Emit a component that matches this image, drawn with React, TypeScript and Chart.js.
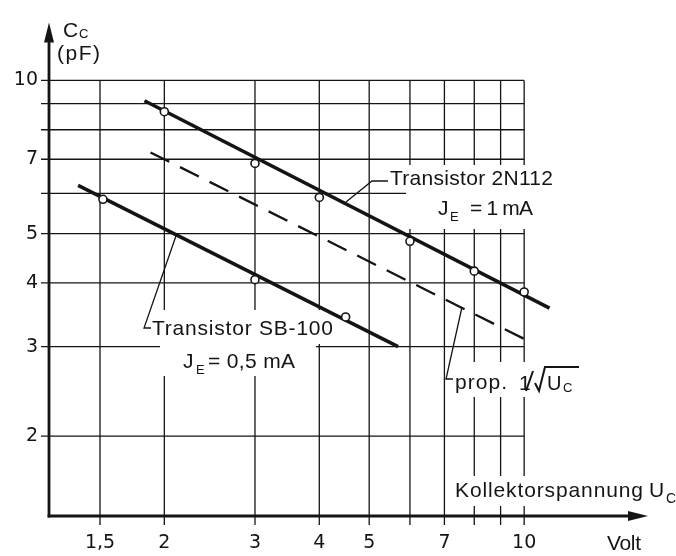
import React, { useEffect, useRef } from "react";
import { Chart, registerables } from "chart.js";

Chart.register(...registerables);

// ---- axis / grid values ----
const xTickValues = [1.5, 2, 3, 4, 5, 7, 10];
const yTickValues = [2, 3, 4, 5, 7, 10];
const xGridValues = [1.5, 2, 3, 4, 5, 6, 7, 8, 9, 10];
const yGridValues = [2, 3, 4, 5, 6, 7, 8, 9, 10];

// ---- Transistor 2N112, J_E = 1 mA ----
const n112Volt = [2, 3, 4, 6, 8, 10];
const n112Cap = [8.68, 6.87, 5.89, 4.83, 4.22, 3.84];
const n112LineVolt = [1.83, 11.2];
const n112LineCap = [9.12, 3.57];

// ---- Transistor SB-100, J_E = 0,5 mA ----
const sb100Volt = [1.52, 3, 4.5];
const sb100Cap = [5.84, 4.06, 3.43];
const sb100LineVolt = [1.36, 5.69];
const sb100LineCap = [6.22, 3.0];

// ---- prop. 1/sqrt(Uc) ----
const propLineVolt = [1.88, 10.1];
const propLineCap = [7.22, 3.09];

const pts = (xs: number[], ys: number[]) => xs.map((x, i) => ({ x, y: ys[i] }));

const INK = "#141414";
const FONT = '"Liberation Sans", Arial, sans-serif';

const overlay = {
  id: "overlay",
  beforeDatasetsDraw(chart: any) {
    const { ctx, chartArea } = chart;
    const xs = chart.scales.x;
    const ys = chart.scales.y;
    const left = chartArea.left;
    const bottom = chartArea.bottom;
    const top = chartArea.top;
    const right = chartArea.right;
    const gx10 = xs.getPixelForValue(10);
    const gy10 = ys.getPixelForValue(10);

    const line = (x1: number, y1: number, x2: number, y2: number) => {
      ctx.beginPath();
      ctx.moveTo(x1, y1);
      ctx.lineTo(x2, y2);
      ctx.stroke();
    };

    ctx.save();
    ctx.letterSpacing = "0px";
    ctx.strokeStyle = INK;
    ctx.lineWidth = 1.3;
    // vertical grid lines + tick marks
    for (const v of xGridValues) {
      const px = xs.getPixelForValue(v);
      line(px, gy10, px, bottom + 9);
    }
    // horizontal grid lines + tick marks
    for (const v of yGridValues) {
      const py = ys.getPixelForValue(v);
      line(left - 8, py, gx10, py);
    }

    // white label backgrounds
    ctx.fillStyle = "#fff";
    const boxes = [
      [388, 165, 172, 26],
      [406, 191, 154, 38],
      [150, 310, 190, 34],
      [160, 344, 156, 32],
      [450, 362, 135, 35],
      [452, 476, 224, 30],
    ];
    for (const b of boxes) ctx.fillRect(b[0], b[1], b[2], b[3]);

    // axes with arrows
    ctx.lineWidth = 2.8;
    ctx.lineCap = "butt";
    line(left, bottom + 1.4, left, top + 16);
    line(left - 1.4, bottom, right - 16, bottom);
    ctx.fillStyle = INK;
    ctx.beginPath();
    ctx.moveTo(left, top);
    ctx.lineTo(left - 5, top + 20);
    ctx.lineTo(left + 5, top + 20);
    ctx.closePath();
    ctx.fill();
    ctx.beginPath();
    ctx.moveTo(right, bottom);
    ctx.lineTo(right - 20, bottom - 5);
    ctx.lineTo(right - 20, bottom + 5);
    ctx.closePath();
    ctx.fill();

    // leader lines
    ctx.lineWidth = 1.3;
    ctx.beginPath();
    ctx.moveTo(346, 202);
    ctx.lineTo(372, 181);
    ctx.lineTo(388, 181);
    ctx.stroke();
    ctx.beginPath();
    ctx.moveTo(177, 233);
    ctx.lineTo(144, 328);
    ctx.lineTo(151, 328);
    ctx.stroke();
    ctx.beginPath();
    ctx.moveTo(462, 307);
    ctx.lineTo(446, 379);
    ctx.lineTo(453, 379);
    ctx.stroke();

    // texts
    ctx.fillStyle = INK;
    ctx.textAlign = "left";
    ctx.textBaseline = "alphabetic";
    const txt = (s: string, x: number, y: number, size: number, width = 0) => {
      ctx.font = `${size}px ${FONT}`;
      ctx.letterSpacing = "0px";
      if (width > 0 && s.length > 1) {
        const w = ctx.measureText(s).width;
        ctx.letterSpacing = `${(width - w) / (s.length - 1)}px`;
      }
      ctx.fillText(s, x, y);
      ctx.letterSpacing = "0px";
    };

    // y axis title
    txt("C", 63, 37, 21);
    txt("C", 79, 38, 13);
    txt("(pF)", 57, 60, 21, 43);

    // 2N112
    txt("Transistor 2N112", 390, 185, 21, 163);
    txt("J", 438, 215, 21);
    txt("E", 450, 221, 13);
    txt("= 1 mA", 470, 215, 21, 63);

    // SB-100
    txt("Transistor SB-100", 152, 335, 21, 181);
    txt("J", 183, 368, 21);
    txt("E", 196, 374, 13);
    txt("= 0,5 mA", 208, 368, 21, 87);

    // prop. 1/sqrt(Uc)
    txt("prop.", 455, 389, 21, 52);
    txt("1", 519, 390, 21);
    ctx.lineWidth = 2;
    line(533, 371, 526, 391);
    ctx.beginPath();
    ctx.moveTo(535, 383);
    ctx.lineTo(539, 391);
    ctx.lineTo(545, 367);
    ctx.lineTo(579, 367);
    ctx.stroke();
    txt("U", 547, 390, 20);
    txt("C", 563, 392, 13);

    // x axis title
    txt("Kollektorspannung", 455, 497, 21, 188);
    txt("U", 649, 497, 21);
    txt("C", 666, 503, 14);
    txt("Volt", 607, 550, 21, 34);

    ctx.restore();
  },
};

export default function App() {
  const canvasRef = useRef<HTMLCanvasElement | null>(null);

  useEffect(() => {
    if (!canvasRef.current) return;
    const chart = new Chart(canvasRef.current, {
      type: "scatter",
      data: {
        datasets: [
          {
            label: "2N112 Messpunkte",
            data: pts(n112Volt, n112Cap),
            showLine: false,
            pointRadius: 4,
            pointBackgroundColor: "#fff",
            pointBorderColor: INK,
            pointBorderWidth: 1.6,
            order: 0,
          },
          {
            label: "SB-100 Messpunkte",
            data: pts(sb100Volt, sb100Cap),
            showLine: false,
            pointRadius: 4,
            pointBackgroundColor: "#fff",
            pointBorderColor: INK,
            pointBorderWidth: 1.6,
            order: 0,
          },
          {
            label: "Transistor 2N112",
            data: pts(n112LineVolt, n112LineCap),
            showLine: true,
            borderColor: INK,
            borderWidth: 3.5,
            pointRadius: 0,
            order: 1,
          },
          {
            label: "Transistor SB-100",
            data: pts(sb100LineVolt, sb100LineCap),
            showLine: true,
            borderColor: INK,
            borderWidth: 3.5,
            pointRadius: 0,
            order: 1,
          },
          {
            label: "prop. 1/√Uc",
            data: pts(propLineVolt, propLineCap),
            showLine: true,
            borderColor: INK,
            borderWidth: 2.3,
            borderDash: [21, 12],
            pointRadius: 0,
            order: 1,
          },
        ],
      },
      options: {
        animation: false,
        responsive: true,
        maintainAspectRatio: false,
        layout: { padding: { top: 20, right: 28, left: 0, bottom: 0 } },
        plugins: {
          legend: { display: false },
          tooltip: { enabled: false },
        },
        scales: {
          x: {
            type: "logarithmic",
            min: 1.194,
            max: 17.4,
            grid: { display: false, drawTicks: false },
            border: { display: false },
            afterBuildTicks: (s: any) => {
              s.ticks = xTickValues.map((v) => ({ value: v }));
            },
            afterFit: (s: any) => {
              s.height = 40;
            },
            ticks: {
              autoSkip: false,
              maxRotation: 0,
              padding: 16,
              color: INK,
              font: { family: "DejaVu Sans", size: 19 },
              callback: (v: any) => String(v).replace(".", ","),
            },
          },
          y: {
            type: "logarithmic",
            min: 1.394,
            max: 13.0,
            grid: { display: false, drawTicks: false },
            border: { display: false },
            afterBuildTicks: (s: any) => {
              s.ticks = yTickValues.map((v) => ({ value: v }));
            },
            afterFit: (s: any) => {
              s.width = 49;
            },
            ticks: {
              autoSkip: false,
              padding: 11,
              color: INK,
              font: { family: "DejaVu Sans", size: 19 },
              callback: (v: any) => String(v).replace(".", ","),
            },
          },
        },
      },
      plugins: [overlay],
    });
    return () => chart.destroy();
  }, []);

  return (
    <div style={{ position: "absolute", left: 0, top: 0, width: 676, height: 556, background: "#fff" }}>
      <canvas ref={canvasRef} />
    </div>
  );
}
